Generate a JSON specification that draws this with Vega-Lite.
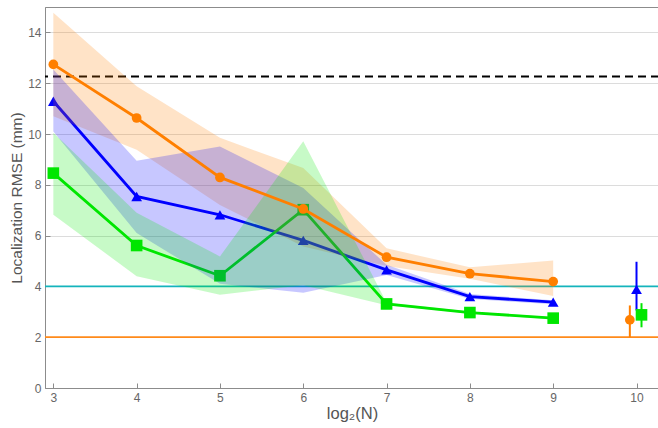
{
  "$schema": "https://vega.github.io/schema/vega-lite/v6.json",
  "width": 614,
  "height": 381,
  "autosize": {"type": "none"},
  "padding": {"left": 45, "top": 7, "right": 0, "bottom": 40},
  "background": "white",
  "view": {"stroke": "#8c8c8c", "strokeWidth": 1},
  "config": {
    "font": "Liberation Sans",
    "axis": {
      "labelFont": "Liberation Sans",
      "titleFont": "Liberation Sans",
      "labelColor": "#666666",
      "titleColor": "#555555",
      "labelFontSize": 12,
      "titleFontSize": 15.5,
      "titleFontWeight": "normal",
      "domainColor": "#8c8c8c",
      "tickColor": "#8c8c8c"
    }
  },
  "datasets": {
    "curve": [
      {"series": "orange", "x": 3, "y": 12.74, "lo": 10.7, "hi": 14.77},
      {"series": "orange", "x": 4, "y": 10.63, "lo": 9.38, "hi": 11.88},
      {"series": "orange", "x": 5, "y": 8.29, "lo": 7.2, "hi": 9.85},
      {"series": "orange", "x": 6, "y": 7.05, "lo": 5.57, "hi": 8.66},
      {"series": "orange", "x": 7, "y": 5.15, "lo": 4.8, "hi": 5.5},
      {"series": "orange", "x": 8, "y": 4.5, "lo": 4.3, "hi": 4.75},
      {"series": "orange", "x": 9, "y": 4.19, "lo": 3.62, "hi": 5.02},
      {"series": "blue", "x": 3, "y": 11.29, "lo": 10.1, "hi": 12.54},
      {"series": "blue", "x": 4, "y": 7.54, "lo": 6.1, "hi": 8.95},
      {"series": "blue", "x": 5, "y": 6.82, "lo": 4.1, "hi": 9.51},
      {"series": "blue", "x": 6, "y": 5.81, "lo": 3.75, "hi": 7.87},
      {"series": "blue", "x": 7, "y": 4.65, "lo": 4.45, "hi": 4.85},
      {"series": "blue", "x": 8, "y": 3.6, "lo": 3.5, "hi": 3.7},
      {"series": "blue", "x": 9, "y": 3.38, "lo": 3.3, "hi": 3.45},
      {"series": "green", "x": 3, "y": 8.46, "lo": 6.82, "hi": 10.05},
      {"series": "green", "x": 4, "y": 5.61, "lo": 4.4, "hi": 6.9},
      {"series": "green", "x": 5, "y": 4.42, "lo": 3.67, "hi": 5.18},
      {"series": "green", "x": 6, "y": 7.02, "lo": 4.05, "hi": 9.71},
      {"series": "green", "x": 7, "y": 3.31, "lo": 3.26, "hi": 3.36},
      {"series": "green", "x": 8, "y": 2.97, "lo": 2.93, "hi": 3.01},
      {"series": "green", "x": 9, "y": 2.75, "lo": 2.71, "hi": 2.79}
    ],
    "single": [
      {"series": "orange", "x": 9.92, "y": 2.68, "lo": 2.0, "hi": 3.25},
      {"series": "blue", "x": 10.0, "y": 3.88, "lo": 3.05, "hi": 4.97},
      {"series": "green", "x": 10.06, "y": 2.88, "lo": 2.39, "hi": 3.34}
    ]
  },
  "layer": [
    {
      "data": {"values": [{"level": 12.26}]},
      "mark": {"type": "rule", "color": "black", "strokeWidth": 2, "strokeDash": [8, 5]},
      "encoding": {
        "y": {
          "field": "level", "type": "quantitative",
          "scale": {"domain": [0, 15], "nice": false},
          "axis": {
            "title": "Localization RMSE (mm)",
            "values": [0, 0.5, 1, 1.5, 2, 2.5, 3, 3.5, 4, 4.5, 5, 5.5, 6, 6.5, 7, 7.5, 8, 8.5, 9, 9.5, 10, 10.5, 11, 11.5, 12, 12.5, 13, 13.5, 14, 14.5],
            "labelExpr": "datum.value % 2 === 0 ? datum.label : ''",
            "tickSize": -5,
            "labelPadding": 9,
            "titlePadding": 3,
            "grid": true,
            "gridColor": "#dcdcdc",
            "gridWidth": 1.2,
            "gridOpacity": {"condition": {"test": "datum.value % 2 !== 0", "value": 0}, "value": 1}
          }
        }
      }
    },
    {
      "data": {"values": [{"level": 4}]},
      "mark": {"type": "rule", "color": "#14b4bc", "strokeWidth": 1.8},
      "encoding": {"y": {"field": "level", "type": "quantitative", "axis": {"title": "Localization RMSE (mm)"}}}
    },
    {
      "data": {"values": [{"level": 2}]},
      "mark": {"type": "rule", "color": "#ff8a1a", "strokeWidth": 1.8},
      "encoding": {"y": {"field": "level", "type": "quantitative", "axis": {"title": "Localization RMSE (mm)"}}}
    },
    {
      "data": {"name": "curve"},
      "transform": [{"filter": "datum.series !== 'orange'"}],
      "mark": {"type": "line", "strokeWidth": 2.8},
      "encoding": {
        "x": {
          "field": "x", "type": "quantitative",
          "scale": {"domain": [2.9, 10.27], "nice": false, "zero": false},
          "axis": {
            "title": "log₂(N)",
            "titleFontSize": 16.5,
            "values": [3, 4, 5, 6, 7, 8, 9, 10],
            "format": "d",
            "tickSize": -5,
            "labelPadding": 9,
            "titlePadding": 2,
            "grid": false
          }
        },
        "y": {"field": "y", "type": "quantitative", "axis": {"title": "Localization RMSE (mm)"}},
        "color": {
          "field": "series", "type": "nominal",
          "scale": {"domain": ["orange", "blue", "green"], "range": ["#ff7f00", "#0000ff", "#00e600"]},
          "legend": null
        },
        "order": {"field": "x"}
      }
    },
    {
      "data": {"name": "curve"},
      "transform": [{"filter": "datum.series !== 'orange'"}],
      "mark": {"type": "point", "filled": true, "opacity": 1},
      "encoding": {
        "x": {"field": "x", "type": "quantitative", "axis": {"title": "log₂(N)"}},
        "y": {"field": "y", "type": "quantitative", "axis": {"title": "Localization RMSE (mm)"}},
        "color": {"field": "series", "type": "nominal", "legend": null},
        "shape": {
          "field": "series", "type": "nominal",
          "scale": {"domain": ["orange", "blue", "green"], "range": ["circle", "triangle-up", "square"]},
          "legend": null
        },
        "size": {
          "field": "series", "type": "nominal",
          "scale": {"domain": ["orange", "blue", "green"], "range": [95, 135, 125]},
          "legend": null
        }
      }
    },
    {
      "data": {"name": "curve"},
      "mark": {"type": "area", "fillOpacity": 0.22, "interpolate": "linear"},
      "encoding": {
        "x": {"field": "x", "type": "quantitative", "axis": {"title": "log₂(N)"}},
        "y": {"field": "lo", "type": "quantitative", "axis": {"title": "Localization RMSE (mm)"}},
        "y2": {"field": "hi"},
        "fill": {"field": "series", "type": "nominal", "scale": {"domain": ["orange", "blue", "green"], "range": ["#ff7f00", "#0000ff", "#00e600"]}, "legend": null},
        "detail": {"field": "series", "type": "nominal"}
      }
    },
    {
      "data": {"name": "curve"},
      "transform": [{"filter": "datum.series === 'orange'"}],
      "mark": {"type": "line", "strokeWidth": 2.8},
      "encoding": {
        "x": {"field": "x", "type": "quantitative", "axis": {"title": "log₂(N)"}},
        "y": {"field": "y", "type": "quantitative", "axis": {"title": "Localization RMSE (mm)"}},
        "color": {"field": "series", "type": "nominal", "legend": null},
        "order": {"field": "x"}
      }
    },
    {
      "data": {"name": "curve"},
      "transform": [{"filter": "datum.series === 'orange'"}],
      "mark": {"type": "point", "filled": true, "opacity": 1},
      "encoding": {
        "x": {"field": "x", "type": "quantitative", "axis": {"title": "log₂(N)"}},
        "y": {"field": "y", "type": "quantitative", "axis": {"title": "Localization RMSE (mm)"}},
        "color": {"field": "series", "type": "nominal", "legend": null},
        "shape": {"field": "series", "type": "nominal", "legend": null},
        "size": {"field": "series", "type": "nominal", "legend": null}
      }
    },
    {
      "data": {"name": "single"},
      "mark": {"type": "rule", "strokeWidth": 2},
      "encoding": {
        "x": {"field": "x", "type": "quantitative", "axis": {"title": "log₂(N)"}},
        "y": {"field": "lo", "type": "quantitative", "axis": {"title": "Localization RMSE (mm)"}},
        "y2": {"field": "hi"},
        "color": {"field": "series", "type": "nominal", "legend": null}
      }
    },
    {
      "data": {"name": "single"},
      "mark": {"type": "point", "filled": true, "opacity": 1},
      "encoding": {
        "x": {"field": "x", "type": "quantitative", "axis": {"title": "log₂(N)"}},
        "y": {"field": "y", "type": "quantitative", "axis": {"title": "Localization RMSE (mm)"}},
        "color": {"field": "series", "type": "nominal", "legend": null},
        "shape": {"field": "series", "type": "nominal", "legend": null},
        "size": {"field": "series", "type": "nominal", "legend": null}
      }
    }
  ]
}
